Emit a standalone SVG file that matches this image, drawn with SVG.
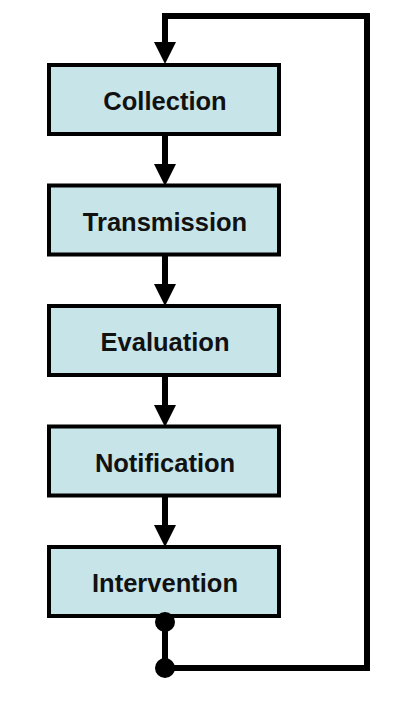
<svg xmlns="http://www.w3.org/2000/svg" width="400" height="702" viewBox="0 0 400 702">
<style>
.box{fill:#c7e4e8;stroke:#000;stroke-width:4}
.lbl{font-family:"Liberation Sans",Arial,sans-serif;font-weight:bold;font-size:25.5px;text-anchor:middle;fill:#111}
.ln{fill:none;stroke:#000;stroke-width:6}
</style>
<defs>
<marker id="ah" markerUnits="userSpaceOnUse" markerWidth="24" markerHeight="24" refX="0" refY="11" orient="auto" overflow="visible">
<path d="M0,0 L22,11 L0,22 Z" fill="#000"/>
</marker>
</defs>
<rect width="400" height="702" fill="#fff"/>
<g id="connectors">
<path class="ln" d="M165,668 H367 V16 H165 V42" marker-end="url(#ah)"/>
<path class="ln" d="M165,136 V164" marker-end="url(#ah)"/>
<path class="ln" d="M165,256 V284" marker-end="url(#ah)"/>
<path class="ln" d="M165,377 V405" marker-end="url(#ah)"/>
<path class="ln" d="M165,497 V525" marker-end="url(#ah)"/>
<line class="ln" x1="165" y1="622" x2="165" y2="668"/>
<circle cx="165" cy="668" r="10" fill="#000"/>
</g>
<g id="collection"><rect class="box" x="49" y="65" width="230" height="69"/><text class="lbl" x="165" y="110">Collection</text></g>
<g id="transmission"><rect class="box" x="49" y="185.5" width="230" height="69"/><text class="lbl" x="165" y="230.5">Transmission</text></g>
<g id="evaluation"><rect class="box" x="49" y="306" width="230" height="69"/><text class="lbl" x="165" y="351">Evaluation</text></g>
<g id="notification"><rect class="box" x="49" y="426.5" width="230" height="69"/><text class="lbl" x="165" y="471.5">Notification</text></g>
<g id="intervention"><rect class="box" x="49" y="547" width="230" height="69"/><text class="lbl" x="165" y="592">Intervention</text></g>
<circle cx="165" cy="622" r="10" fill="#000"/>
</svg>
